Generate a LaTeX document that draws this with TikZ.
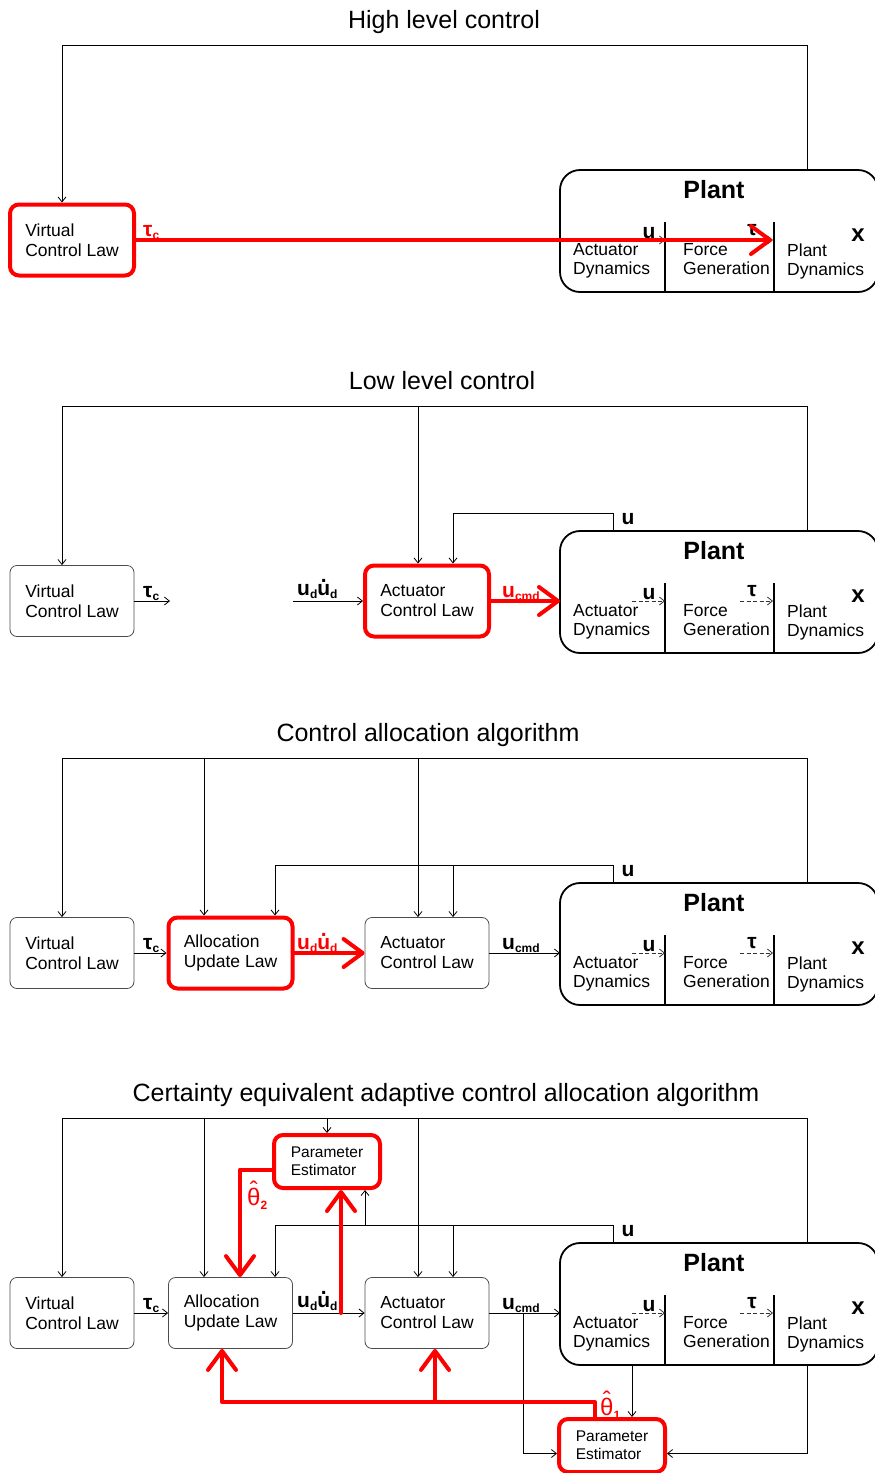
\documentclass[tikz,border=0pt]{standalone}
\usepackage{fontspec}
\setmainfont{Liberation Sans}
\usetikzlibrary{arrows.meta}

% type sizes
\newcommand\boxfont{\fontsize{17.5}{20}\selectfont}
\newcommand\partfont{\fontsize{17.5}{19}\selectfont}
\newcommand\pefont{\fontsize{15.5}{18}\selectfont}
\newcommand\ttlfont{\fontsize{25}{30}\selectfont}
\newcommand\plantfont{\fontsize{25}{30}\selectfont\bfseries}
\newcommand\sigfont{\fontsize{21}{24}\selectfont\bfseries}
\newcommand\subfont{\fontsize{12}{12}\selectfont\bfseries}
\newcommand\thfont{\fontsize{24}{24}\selectfont}
% signal with subscript, dotted u, hatted theta
\newcommand\sg[2]{#1\raisebox{-3.5pt}{\subfont #2}}
\newcommand\udot{\ooalign{u\cr\hidewidth\raisebox{0.6em}{.}\hidewidth\cr}}
\newcommand\thhat{\ooalign{θ\cr\hidewidth\raisebox{0.28em}{ˆ}\hidewidth\cr}}

% the plant with its three stages (same in every panel)
\newcommand\drawplant{%
  \node[plantbox] (pl) at (560,170) {};
  \node[font=\plantfont, anchor=base] (plt) at (714,198) {Plant};
  \draw[divider] ([xshift=105pt]pl.south west) -- ++(0,-70);
  \draw[divider] ([xshift=214pt]pl.south west) -- ++(0,-70);
  \node[part] (ad) at (573,243.5) {Actuator\\Dynamics};
  \node[part] (fg) at (683,243.5) {Force\\Generation};
  \node[part] (pd) at (787,243.5) {Plant\\Dynamics};
  \draw[dasharrow] (632,240) -- (665,240);
  \draw[dasharrow] (740,240) -- (773,240);
  \node[sig, anchor=base] (lu) at (649,238) {u};
  \node[sig, anchor=base] (lt) at (752,235) {τ};
  \node[sig, anchor=base, font=\fontsize{24}{24}\selectfont\bfseries] (lx) at (858,241) {x};
}

\begin{document}
\begin{tikzpicture}[x=1pt, y=-1pt,
  box/.style={draw=black!70, line width=0.8pt, rounded corners=7pt,
    minimum width=124pt, minimum height=71pt, inner sep=0pt,
    align=left, font=\boxfont},
  hibox/.style={box, draw=red, line width=4pt, rounded corners=9pt},
  pebox/.style={hibox, minimum width=106pt, minimum height=53pt, font=\pefont},
  plantbox/.style={draw=black, line width=1.8pt, rounded corners=20pt,
    minimum width=318pt, minimum height=122pt, anchor=north west,
    outer sep=0pt, inner sep=0pt},
  divider/.style={draw=black, line width=1.8pt},
  wire/.style={draw=black, line width=0.8pt},
  wirearrow/.style={wire, -{Straight Barb[length=5pt,width=8pt]}},
  dasharrow/.style={wirearrow, draw=black!80, dash pattern=on 4pt off 2.5pt},
  hiwire/.style={draw=red, line width=4pt, line cap=round, line join=round},
  hiarrow/.style={hiwire, -{Straight Barb[length=19pt,width=28pt,round]}},
  ttl/.style={font=\ttlfont, anchor=base},
  sig/.style={font=\sigfont, inner sep=0pt, anchor=base west},
  thl/.style={font=\thfont, text=red, inner sep=0pt, anchor=base west},
  part/.style={font=\partfont, align=left, inner sep=0pt, anchor=north west}
]
\useasboundingbox (0,0) rectangle (875,1473);

% ---------------- High level control ----------------
\begin{scope}[name prefix=a-]
  \node[ttl] (title) at (444,28) {High level control};
  \drawplant
  \node[hibox] (vcl) at (72,240) {Virtual\\Control Law};
  \draw[wirearrow] ([xshift=247pt]pl.north west) -- (807,45) -| ([xshift=-10pt]vcl.north);
  \node[sig, text=red] (tc) at (143,236) {\sg{τ}{c}};
  \coordinate (tauend) at (772,240);
  \draw[hiarrow] (vcl.east) -- (tauend);
\end{scope}

% ---------------- Low level control ----------------
\begin{scope}[yshift=-361pt, name prefix=b-]
  \node[ttl] (title) at (442,28) {Low level control};
  \drawplant
  \node[box] (vcl) at (72,240) {Virtual\\Control Law};
  \node[hibox] (acl) at (427,240) {Actuator\\Control Law};
  \draw[wirearrow] ([xshift=247pt]pl.north west) -- (807,45) -| ([xshift=-10pt]vcl.north);
  \coordinate (j418) at (418,45);
  \draw[wirearrow] (j418) -- ([xshift=-9pt]acl.north);
  \draw[wirearrow] ([xshift=53pt]pl.north west) -- (613,152) -| ([xshift=26pt]acl.north);
  \node[sig, anchor=base] (ul) at (628,163) {u};
  \coordinate (tauend) at (170,240);
  \draw[wirearrow] (vcl.east) -- (tauend);
  \node[sig] (tc) at (143,236) {\sg{τ}{c}};
  \coordinate (udin) at (293,240);
  \draw[wirearrow] (udin) -- (acl.west);
  \node[sig] (ud) at (297,234) {\sg{u}{d}\sg{\udot}{d}};
  \draw[hiarrow] (acl.east) -- (pl.west |- acl.east);
  \node[sig, text=red] (uc) at (502,236) {\sg{u}{cmd}};
\end{scope}

% ---------------- Control allocation algorithm ----------------
\begin{scope}[yshift=-713pt, name prefix=c-]
  \node[ttl] (title) at (428,28) {Control allocation algorithm};
  \drawplant
  \node[box] (vcl) at (72,240) {Virtual\\Control Law};
  \node[hibox] (aul) at (230.5,240) {Allocation\\Update Law};
  \node[box] (acl) at (427,240) {Actuator\\Control Law};
  \draw[wirearrow] ([xshift=247pt]pl.north west) -- (807,45) -| ([xshift=-10pt]vcl.north);
  \coordinate (j204) at (204,45);
  \coordinate (j418) at (418,45);
  \draw[wirearrow] (j204) -- ([xshift=-26.5pt]aul.north);
  \draw[wirearrow] (j418) -- ([xshift=-9pt]acl.north);
  \draw[wirearrow] ([xshift=53pt]pl.north west) -- (613,152) -| ([xshift=44.5pt]aul.north);
  \coordinate (j453) at (453,152);
  \draw[wirearrow] (j453) -- ([xshift=26pt]acl.north);
  \node[sig, anchor=base] (ul) at (628,163) {u};
  \draw[wirearrow] (vcl.east) -- (aul.west);
  \node[sig] (tc) at (143,236) {\sg{τ}{c}};
  \draw[hiarrow] (aul.east) -- (acl.west);
  \node[sig, text=red] (ud) at (297,236) {\sg{u}{d}\sg{\udot}{d}};
  \draw[wirearrow] (acl.east) -- (pl.west |- acl.east);
  \node[sig] (uc) at (502,236) {\sg{u}{cmd}};
\end{scope}

% ---------------- Certainty equivalent adaptive control allocation ----------------
\begin{scope}[yshift=-1073pt, name prefix=d-]
  \node[ttl] (title) at (446,28) {Certainty equivalent adaptive control allocation algorithm};
  \drawplant
  \node[box] (vcl) at (72,240) {Virtual\\Control Law};
  \node[box] (aul) at (230.5,240) {Allocation\\Update Law};
  \node[box] (acl) at (427,240) {Actuator\\Control Law};
  \node[pebox] (pe2) at (327,88.5) {Parameter\\Estimator};
  \node[pebox] (pe1) at (612,372.5) {Parameter\\Estimator};
  % outer feedback of x
  \draw[wirearrow] ([xshift=247pt]pl.north west) -- (807,45) -| ([xshift=-10pt]vcl.north);
  \coordinate (j204) at (204,45);
  \coordinate (j327) at (327,45);
  \coordinate (j418) at (418,45);
  \draw[wirearrow] (j204) -- ([xshift=-26.5pt]aul.north);
  \draw[wirearrow] (j327) -- (pe2.north);
  \draw[wirearrow] (j418) -- ([xshift=-9pt]acl.north);
  % feedback of u
  \draw[wirearrow] ([xshift=53pt]pl.north west) -- (613,152) -| ([xshift=44.5pt]aul.north);
  \coordinate (j365) at (365,152);
  \coordinate (j453) at (453,152);
  \draw[wirearrow] (j365) -- ([xshift=38pt]pe2.south);
  \draw[wirearrow] (j453) -- ([xshift=26pt]acl.north);
  \node[sig, anchor=base] (ul) at (628,163) {u};
  % forward chain
  \draw[wirearrow] (vcl.east) -- (aul.west);
  \node[sig] (tc) at (143,236) {\sg{τ}{c}};
  \draw[wirearrow] (aul.east) -- (acl.west);
  \node[sig] (ud) at (297,234) {\sg{u}{d}\sg{\udot}{d}};
  \draw[wirearrow] (acl.east) -- (pl.west |- acl.east);
  \node[sig] (uc) at (502,236) {\sg{u}{cmd}};
  % inputs of the lower estimator
  \coordinate (j523) at (523,240);
  \draw[wirearrow] (j523) |- ([yshift=-8pt]pe1.west);
  \draw[wirearrow] ([xshift=72pt]pl.south west) -- ([xshift=20pt]pe1.north);
  \draw[wirearrow] ([xshift=247pt]pl.south west) |- ([yshift=-8pt]pe1.east);
  % estimates
  \coordinate (j341) at (341,240);
  \draw[hiarrow] (j341) -- ([xshift=14pt]pe2.south);
  \draw[hiarrow] ([yshift=-8pt]pe2.west) -| ([xshift=9.5pt]aul.north);
  \node[thl] (th2) at (247,132) {\thhat\raisebox{-4pt}{\subfont 2}};
  \draw[hiarrow] ([xshift=-17pt]pe1.north) |- (222,329) -- ([xshift=-8.5pt]aul.south);
  \coordinate (j435) at (435,329);
  \draw[hiarrow] (j435) -- ([xshift=8pt]acl.south);
  \node[thl] (th1) at (600,342) {\thhat\raisebox{-4pt}{\subfont 1}};
\end{scope}
\end{tikzpicture}
\end{document}
